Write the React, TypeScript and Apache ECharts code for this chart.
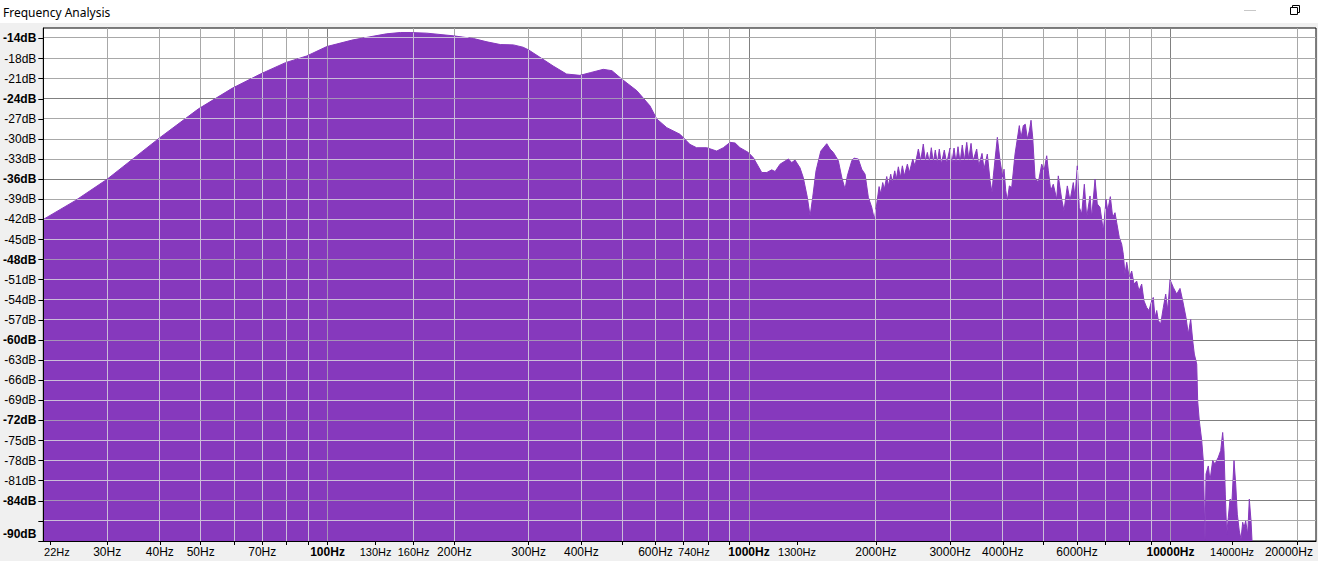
import React, { useEffect, useRef } from "react";
import * as echarts from "echarts";

// Spectrum (frequency in Hz, level in dB)
const freqHz = [
  21.17, 25.2, 30, 40, 49.4, 59.5, 69.3, 79.5, 89.3, 99.6,
  115, 126, 138, 149, 157, 172, 199, 222, 239, 257,
  276, 291, 300, 319, 343, 369, 397, 420, 451, 473,
  499, 542, 582, 604, 638, 686, 724, 751, 794, 838,
  869, 902, 927, 952, 996, 1024, 1072, 1102, 1132, 1153,
  1185, 1217, 1240, 1263, 1286, 1321, 1345, 1375, 1396, 1416,
  1442, 1480, 1529, 1557, 1585, 1629, 1660, 1690, 1711, 1753,
  1775, 1817, 1851, 1885, 1919, 1955, 1983, 2009, 2035, 2054,
  2076, 2094, 2122, 2141, 2169, 2188, 2217, 2236, 2261, 2286,
  2311, 2336, 2375, 2401, 2446, 2476, 2522, 2555, 2591, 2620,
  2649, 2678, 2707, 2737, 2767, 2797, 2828, 2859, 2906, 2944,
  2998, 3026, 3065, 3098, 3132, 3167, 3206, 3242, 3285, 3321,
  3363, 3399, 3469, 3508, 3571, 3610, 3676, 3731, 3772, 3799,
  3883, 3940, 3999, 4027, 4065, 4100, 4146, 4200, 4277, 4378,
  4419, 4475, 4524, 4574, 4624, 4667, 4711, 4770, 4857, 4948,
  5011, 5085, 5130, 5198, 5271, 5370, 5417, 5519, 5588, 5691,
  5775, 5880, 5935, 6010, 6076, 6156, 6245, 6327, 6442, 6501,
  6621, 6703, 6803, 6928, 7031, 7096, 7198, 7293, 7384, 7454,
  7559, 7659, 7727, 7798, 7872, 7984, 8089, 8191, 8313, 8418,
  8543, 8650, 8779, 8890, 9022, 9101, 9188, 9274, 9356, 9479,
  9615, 9741, 9849, 9973, 10154, 10344, 10532, 10689, 10883, 11020,
  11166, 11290, 11389, 11540, 11600, 11703, 11858, 11963, 12074, 12140,
  12293, 12407, 12591, 12752, 12983, 13155, 13298, 13393, 13490, 13593,
  13712, 13842, 13992, 14146, 14277, 14403, 14560, 14698, 14834, 14940,
  15078, 15245, 15381, 15524, 15610,
];

const levelDb = [
  -42.0, -39.2, -36.0, -29.8, -25.5, -22.4, -20.3, -18.6, -17.6, -16.2,
  -15.2, -14.75, -14.3, -14.1, -14.1, -14.2, -14.6, -15.0, -15.5, -15.9,
  -15.95, -16.3, -16.7, -17.8, -19.1, -20.3, -20.5, -20.1, -19.6, -19.8,
  -21.05, -22.8, -25.05, -27.0, -28.3, -29.3, -30.8, -31.3, -31.3, -31.8,
  -31.3, -30.5, -30.6, -31.3, -32.0, -32.8, -35.0, -35.0, -34.6, -34.85,
  -33.75, -33.3, -33.0, -33.5, -33.15, -34.3, -35.75, -38.7, -41.5, -38.7,
  -34.75, -31.8, -30.7, -31.5, -32.0, -33.25, -35.75, -37.5, -35.5, -33.25,
  -32.85, -33.0, -34.5, -35.25, -38.7, -40.2, -42.0, -39.7, -37.1, -38.2,
  -36.5, -37.5, -35.6, -37.0, -35.25, -36.5, -34.75, -36.0, -34.15, -35.75,
  -34.0, -35.5, -33.75, -35.0, -33.0, -34.0, -31.5, -33.25, -30.75, -33.25,
  -32.0, -33.5, -31.3, -33.5, -31.65, -33.65, -31.5, -33.75, -31.65, -33.65,
  -31.35, -33.75, -31.35, -33.5, -31.15, -33.5, -30.9, -33.25, -30.5, -33.0,
  -30.65, -33.25, -31.5, -34.0, -32.15, -34.5, -32.25, -36.2, -38.0, -35.5,
  -29.75, -33.25, -35.75, -34.5, -37.7, -39.2, -37.0, -37.25, -32.25, -28.0,
  -29.8, -28.0, -27.8, -30.0, -28.8, -27.2, -29.8, -35.75, -36.5, -33.75,
  -34.75, -32.5, -34.75, -37.7, -36.75, -39.0, -35.5, -39.0, -40.7, -37.0,
  -39.2, -36.5, -38.7, -34.0, -40.2, -41.2, -36.75, -41.7, -38.5, -41.7,
  -36.0, -39.7, -40.2, -43.7, -39.0, -40.7, -38.6, -41.7, -41.0, -42.5,
  -44.7, -45.7, -47.2, -50.2, -48.4, -50.7, -49.7, -51.65, -51.2, -52.65,
  -51.65, -54.15, -55.15, -55.6, -54.15, -53.65, -56.65, -55.6, -57.1, -57.6,
  -55.15, -53.15, -55.6, -51.0, -52.15, -53.15, -52.3, -54.15, -56.65, -59.1,
  -56.9, -60.1, -62.1, -63.6, -69.1, -72.05, -75.0, -78.05, -90, -80.0,
  -78.8, -81.0, -78.0, -78.5, -77.5, -76.5, -73.8, -76.5, -83.0, -89.0,
  -86.5, -83.75, -84.0, -78.0, -81.5, -86.0, -88.5, -89.7, -87.2, -88.0,
  -87.0, -89.0, -83.75, -87.0, -90,
];

// Axis / grid definitions
const xGridHz = [30, 40, 50, 60, 70, 80, 90, 100, 160, 200, 300, 400, 500, 600, 700, 800, 900,
  1000, 2000, 3000, 4000, 5000, 6000, 7000, 8000, 9000, 10000, 20000];
const xGridMajorHz = [100, 1000, 10000];
const xTickHz = [22, 30, 40, 50, 60, 70, 80, 90, 100, 130, 160, 200, 300, 400, 500, 600, 700, 800, 900,
  1000, 1300, 2000, 3000, 4000, 5000, 6000, 7000, 8000, 9000, 10000, 14000, 20000];
const xLabelHz = [22, 30, 40, 50, 70, 100, 130, 160, 200, 300, 400, 600, 740, 1000, 1300,
  2000, 3000, 4000, 6000, 10000, 14000, 20000];
const xLabelBoldHz = [100, 1000, 10000];
const xLabelSmallHz = [22, 130, 160, 740, 1300, 14000];

const yGridDb = [-87, -84, -81, -78, -75, -72, -69, -66, -63, -60, -57, -54, -51, -48, -45, -42,
  -39, -36, -33, -30, -27, -24, -21, -18, -14.9];
const yGridMajorDb = [-84, -72, -60, -48, -36, -24];
const yTickDb = [-90, -87, -84, -81, -78, -75, -72, -69, -66, -63, -60, -57, -54, -51, -48, -45, -42,
  -39, -36, -33, -30, -27, -24, -21, -18, -14.9];
const yLabelDb = [-90, -84, -81, -78, -75, -72, -69, -66, -63, -60, -57, -54, -51, -48, -45, -42,
  -39, -36, -33, -30, -27, -24, -21, -18, -14.9];
const yLabelBoldDb = [-90, -84, -72, -60, -48, -36, -24, -14];

const F_MIN = 21.17;
const F_MAX = 22140;
const DB_MIN = -90;
const DB_MAX = -13.43;

const PURPLE = "#8639bd";
const UNDER_MINOR = "#a8a8a8";
const UNDER_MAJOR = "#808080";
const OVER_MINOR = "#cbbdd9";
const OVER_MAJOR = "#a693b8";
const FONT = '"Liberation Sans", Arial, sans-serif';

export default function App() {
  const ref = useRef<HTMLDivElement>(null);

  useEffect(() => {
    if (!ref.current) return;
    const chart = echarts.init(ref.current, null, { renderer: "svg" });

    const n = Math.min(freqHz.length, levelDb.length);
    const lx: number[] = [];
    const ly: number[] = [];
    for (let i = 0; i < n; i++) {
      lx.push(Math.log10(freqHz[i]));
      ly.push(levelDb[i]);
    }
    const X_MIN = Math.log10(F_MIN);
    const X_MAX = Math.log10(F_MAX);

    const specAt = (x: number) => {
      if (x < lx[0] || x > lx[n - 1]) return DB_MIN;
      for (let i = 0; i < n - 1; i++) {
        if (x >= lx[i] && x <= lx[i + 1]) {
          const t = (x - lx[i]) / (lx[i + 1] - lx[i]);
          return ly[i] + t * (ly[i + 1] - ly[i]);
        }
      }
      return DB_MIN;
    };

    const underItems: number[][] = [];
    const overItems: number[][] = [];
    xGridHz.forEach((g) => {
      const x = Math.log10(g);
      const major = xGridMajorHz.includes(g) ? 1 : 0;
      underItems.push([x, DB_MIN, x, DB_MAX, major]);
      const top = specAt(x);
      if (top > DB_MIN + 0.01) overItems.push([x, DB_MIN, x, top, major]);
    });
    yGridDb.forEach((L) => {
      const major = yGridMajorDb.includes(L) ? 1 : 0;
      underItems.push([X_MIN, L, X_MAX, L, major]);
      let start: number | null = ly[0] > L ? lx[0] : null;
      for (let i = 0; i < n - 1; i++) {
        const a = ly[i];
        const b = ly[i + 1];
        if ((a > L) !== (b > L)) {
          const t = (L - a) / (b - a);
          const xc = lx[i] + t * (lx[i + 1] - lx[i]);
          if (start === null) start = xc;
          else {
            overItems.push([start, L, xc, L, major]);
            start = null;
          }
        }
      }
      if (start !== null) overItems.push([start, L, lx[n - 1], L, major]);
    });

    const snap = (v: number) => Math.round(v - 0.5) + 0.5;
    const gridSeries = (items: number[][], minor: string, majorC: string, z: number) => ({
      type: "custom",
      coordinateSystem: "cartesian2d",
      silent: true,
      clip: true,
      z,
      encode: { x: [0, 2], y: [1, 3] },
      data: items,
      renderItem: (_p: any, api: any) => {
        const p1 = api.coord([api.value(0), api.value(1)]);
        const p2 = api.coord([api.value(2), api.value(3)]);
        let x1 = p1[0], y1 = p1[1], x2 = p2[0], y2 = p2[1];
        if (Math.abs(x1 - x2) < 0.01) {
          x1 = x2 = snap(x1);
        } else {
          y1 = y2 = snap(y1);
        }
        return {
          type: "line",
          shape: { x1, y1, x2, y2 },
          style: { stroke: api.value(4) === 1 ? majorC : minor, lineWidth: 1 },
        };
      },
    });

    const xFormatter = (v: number) => {
      const f = Math.round(Math.pow(10, v));
      const s = f + "Hz";
      if (f === xLabelHz[0]) return "{first|" + s + "}";
      if (f === xLabelHz[xLabelHz.length - 1]) return "{last|" + s + "}";
      if (xLabelBoldHz.includes(f)) return "{b|" + s + "}";
      if (xLabelSmallHz.includes(f)) return "{s|" + s + "}";
      return "{n|" + s + "}";
    };
    const yFormatter = (v: number) => {
      const d = Math.trunc(v);
      const s = d + "dB";
      if (d === DB_MIN) return "{bottom|" + s + "}";
      if (yLabelBoldDb.includes(d)) return "{b|" + s + "}";
      return "{n|" + s + "}";
    };

    const option: any = {
      animation: false,
      backgroundColor: "#f0f0f0",
      textStyle: { fontFamily: FONT },
      grid: {
        left: 43,
        top: 28,
        width: 1273,
        height: 513,
        show: true,
        backgroundColor: "#ffffff",
        borderColor: "#000000",
        borderWidth: 1,
        containLabel: false,
      },
      xAxis: {
        type: "value",
        min: X_MIN,
        max: X_MAX,
        z: 5,
        axisLine: { show: true, lineStyle: { color: "#000", width: 1 } },
        axisTick: {
          show: true,
          customValues: xTickHz.map((f) => Math.log10(f)),
          length: 4,
          lineStyle: { color: "#000" },
        },
        axisLabel: {
          show: true,
          customValues: xLabelHz.map((f) => Math.log10(f)),
          margin: 5,
          formatter: xFormatter,
          rich: {
            n: { fontFamily: FONT, fontSize: 12, color: "#000" },
            b: { fontFamily: FONT, fontSize: 12, fontWeight: "bold", color: "#000" },
            s: { fontFamily: FONT, fontSize: 11, color: "#000" },
            first: { fontFamily: FONT, fontSize: 11, color: "#000", padding: [0, 0, 0, 13] },
            last: { fontFamily: FONT, fontSize: 12, color: "#000", padding: [0, 17, 0, 0] },
          },
        },
        splitLine: { show: false },
      },
      yAxis: {
        type: "value",
        min: DB_MIN,
        max: DB_MAX,
        z: 5,
        axisLine: { show: true, lineStyle: { color: "#000", width: 1 } },
        axisTick: {
          show: true,
          customValues: yTickDb,
          length: 5,
          lineStyle: { color: "#000" },
        },
        axisLabel: {
          show: true,
          customValues: yLabelDb,
          margin: 7,
          formatter: yFormatter,
          rich: {
            n: { fontFamily: FONT, fontSize: 12, color: "#000" },
            b: { fontFamily: FONT, fontSize: 12, fontWeight: "bold", color: "#000" },
            bottom: { fontFamily: FONT, fontSize: 12, fontWeight: "bold", color: "#000", padding: [0, 0, 14, 0] },
          },
        },
        splitLine: { show: false },
      },
      graphic: [
        { type: "rect", shape: { x: 0, y: 0, width: 1318, height: 23 }, style: { fill: "#ffffff" } },
        {
          type: "text",
          x: 3,
          y: 12,
          style: {
            text: "Frequency Analysis",
            fontFamily: '"Noto Sans", "Open Sans", sans-serif',
            fontSize: 12,
            fill: "#000",
            verticalAlign: "middle",
          },
        },
        { type: "rect", shape: { x: 1244, y: 10, width: 12, height: 1 }, style: { fill: "#c8c8c8" } },
        {
          type: "rect",
          shape: { x: 1292.5, y: 5.5, width: 7, height: 7 },
          style: { fill: "#ffffff", stroke: "#000000", lineWidth: 1 },
        },
        {
          type: "rect",
          shape: { x: 1290.5, y: 7.5, width: 7, height: 7 },
          style: { fill: "#ffffff", stroke: "#000000", lineWidth: 1 },
        },
      ],
      series: [
        gridSeries(underItems, UNDER_MINOR, UNDER_MAJOR, 1),
        {
          type: "line",
          z: 2,
          silent: true,
          showSymbol: false,
          symbol: "none",
          data: lx.map((x, i) => [x, ly[i]]),
          lineStyle: { color: PURPLE, width: 1 },
          areaStyle: { color: PURPLE, opacity: 1, origin: "start" },
        },
        gridSeries(overItems, OVER_MINOR, OVER_MAJOR, 3),
      ],
    };

    chart.setOption(option);
    return () => {
      chart.dispose();
    };
  }, []);

  return (
    <div
      ref={ref}
      style={{ position: "fixed", left: 0, top: 0, width: 1318, height: 561 }}
    />
  );
}
